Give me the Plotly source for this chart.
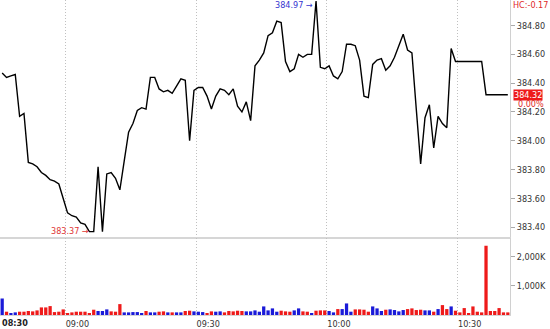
import plotly.graph_objects as go
import pandas as pd

# ---- data (per minute, starting 08:45) ----
prices = [
    384.47, 384.44, 384.45, 384.46, 384.17, 384.19, 383.85, 383.84, 383.82, 383.78,
    383.76, 383.73, 383.72, 383.70, 383.60, 383.50, 383.48, 383.47, 383.43, 383.42,
    383.37, 383.37, 383.82, 383.37, 383.77, 383.78, 383.74, 383.66, 383.86, 384.06,
    384.12, 384.21, 384.23, 384.22, 384.44, 384.44, 384.36, 384.34, 384.35, 384.33,
    384.38, 384.43, 384.42, 384.00, 384.35, 384.37, 384.37, 384.31, 384.22, 384.31,
    384.36, 384.35, 384.32, 384.36, 384.24, 384.20, 384.27, 384.14, 384.52, 384.56,
    384.61, 384.73, 384.75, 384.83, 384.82, 384.55, 384.48, 384.50, 384.60, 384.58,
    384.60, 384.60, 384.97, 384.51, 384.50, 384.52, 384.45, 384.43, 384.48, 384.67,
    384.67, 384.66, 384.56, 384.31, 384.30, 384.53, 384.56, 384.57, 384.49, 384.52,
    384.58, 384.66, 384.74, 384.63, 384.61, 384.22, 383.84, 384.16, 384.25, 383.95,
    384.17, 384.12, 384.09, 384.64, 384.55, 384.55, 384.55, 384.55, 384.55, 384.55,
    384.55, 384.32, 384.32, 384.32, 384.32, 384.32, 384.32,
]

volumes = [  # thousands
    565, 113, 68, 90, 113, 113, 136, 124, 158, 260,
    260, 305, 100, 113, 192, 68, 90, 113, 113, 113,
    68, 181, 136, 136, 192, 124, 113, 373, 90, 90,
    100, 100, 68, 136, 90, 90, 113, 124, 90, 90,
    90, 90, 136, 147, 124, 113, 100, 68, 124, 113,
    124, 90, 136, 124, 147, 136, 124, 124, 158, 113,
    294, 158, 226, 113, 147, 124, 113, 158, 226, 124,
    113, 68, 147, 158, 158, 136, 90, 203, 203, 396,
    113, 192, 192, 181, 113, 294, 226, 136, 181, 192,
    170, 124, 170, 203, 226, 170, 181, 158, 158, 113,
    203, 339, 203, 294, 147, 90, 237, 68, 294, 113,
    90, 2370, 136, 136, 237, 90, 90,
]

vol_dir = list(
    "BRBBRRRRRR"
    "RRRRRRRRRR"
    "RRBBBRRRBB"
    "BBBRBBRRBR"
    "BBRRBBBRRB"
    "BRRRRRBBBB"
    "BBBBRRRBBR"
    "RBRRRBBRBB"
    "BRRRRBBBRB"
    "BBBRRRRBBR"
    "BRRBRRRRRR"
    "RRRRRRR"
)

price_ticks = [383.40, 383.60, 383.80, 384.00, 384.20, 384.40, 384.60, 384.80]
vol_tickvals = [1000, 2000]
vol_ticktext = ["1,000K", "2,000K"]
hi_label = "384.97"
lo_label = "383.37"
hi_idx = 72
lo_idx = 20
last_price = "384.32"
change_text = "HC:-0.17"
pct_text = "0.00%"

# ---- figure ----
start = pd.Timestamp("2024-01-02 08:45")
times = pd.date_range(start, periods=len(prices), freq="min") + pd.Timedelta(seconds=30)
x_end = start + pd.Timedelta(minutes=117)

RED = "#ee1a1a"
BLUE = "#1a1ad8"
colors = [RED if d == "R" else BLUE for d in vol_dir]

FONT = "DejaVu Sans Condensed, DejaVu Sans, sans-serif"

fig = go.Figure()
fig.add_trace(go.Scatter(x=times, y=prices, mode="lines",
                         line=dict(color="black", width=1.4),
                         xaxis="x", yaxis="y", hoverinfo="skip"))
fig.add_trace(go.Bar(x=times, y=volumes, marker=dict(color=colors, line=dict(width=0)),
                     width=45000, xaxis="x2", yaxis="y2", hoverinfo="skip"))

H_PLOT = 317.0
price_bottom = (H_PLOT - 239) / H_PLOT
vol_top = (H_PLOT - 240) / H_PLOT

common_x = dict(type="date", range=[start, x_end], showgrid=True,
                gridcolor="#c0c0c0", griddash="1px,2px", gridwidth=1,
                tick0="2024-01-02 09:00", dtick=1800000, ticks="",
                zeroline=False, fixedrange=True)

fig.update_layout(
    width=550, height=329,
    margin=dict(l=0, r=40, t=0, b=12),
    paper_bgcolor="white", plot_bgcolor="white",
    showlegend=False,
    font=dict(family=FONT, size=9, color="#333333"),
    xaxis=dict(**common_x, anchor="y", domain=[0, 1], showticklabels=False,
               showline=True, linecolor="#d6d6d6", linewidth=2),
    xaxis2=dict(**common_x, anchor="y2", domain=[0, 1], matches="x",
                showticklabels=True, tickformat="%H:%M", ticklabelshift=12,
                tickfont=dict(size=9, color="#333333"),
                showline=True, linecolor="#d6d6d6", linewidth=1),
    yaxis=dict(domain=[price_bottom, 1], range=[383.329, 384.977], side="right",
               tickvals=price_ticks, tickformat=".2f", ticks="outside", ticklen=4,
               tickcolor="#aaaaaa", showgrid=False, zeroline=False,
               showline=True, linecolor="#d0d0d0", anchor="x",
               tickfont=dict(size=9, color="#333333")),
    yaxis2=dict(domain=[0, vol_top], range=[0, 2620], side="right",
                tickvals=vol_tickvals, ticktext=vol_ticktext, ticks="outside",
                ticklen=4, tickcolor="#aaaaaa", showgrid=False, zeroline=False,
                showline=True, linecolor="#d0d0d0", anchor="x2",
                tickfont=dict(size=9, color="#333333")),
    bargap=0.25,
)

ann = []
ann.append(dict(text="<b>08:30</b>", xref="paper", yref="paper", x=0, y=(H_PLOT - 325) / H_PLOT,
                xanchor="left", yanchor="middle", showarrow=False,
                font=dict(size=9, color="#222222")))
ann.append(dict(text=change_text, xref="paper", yref="paper", x=511 / 510, y=(H_PLOT - 5) / H_PLOT,
                xanchor="left", yanchor="middle", showarrow=False,
                font=dict(size=9, color="#e02828")))
ann.append(dict(text=last_price, xref="paper", yref="y", x=513 / 510, y=float(last_price),
                xanchor="left", yanchor="middle", showarrow=False, bgcolor=RED,
                borderpad=0, font=dict(size=9, color="white")))
ann.append(dict(text=pct_text, xref="paper", yref="y", x=516 / 510, y=float(last_price),
                yshift=-9, xanchor="left", yanchor="middle", showarrow=False,
                font=dict(size=9, color="#e02828")))
ann.append(dict(text=hi_label + " \u2192", xref="x", yref="y", x=times[hi_idx], y=prices[hi_idx],
                xanchor="right", yanchor="middle", xshift=-1, yshift=-4, showarrow=False,
                font=dict(size=9, color="#3535d0")))
ann.append(dict(text=lo_label + " \u2192", xref="x", yref="y", x=times[lo_idx], y=prices[lo_idx],
                xanchor="right", yanchor="middle", xshift=2, yshift=1, showarrow=False,
                font=dict(size=9, color="#e03535")))
fig.update_layout(annotations=ann)

fig.write_html("out.html")
